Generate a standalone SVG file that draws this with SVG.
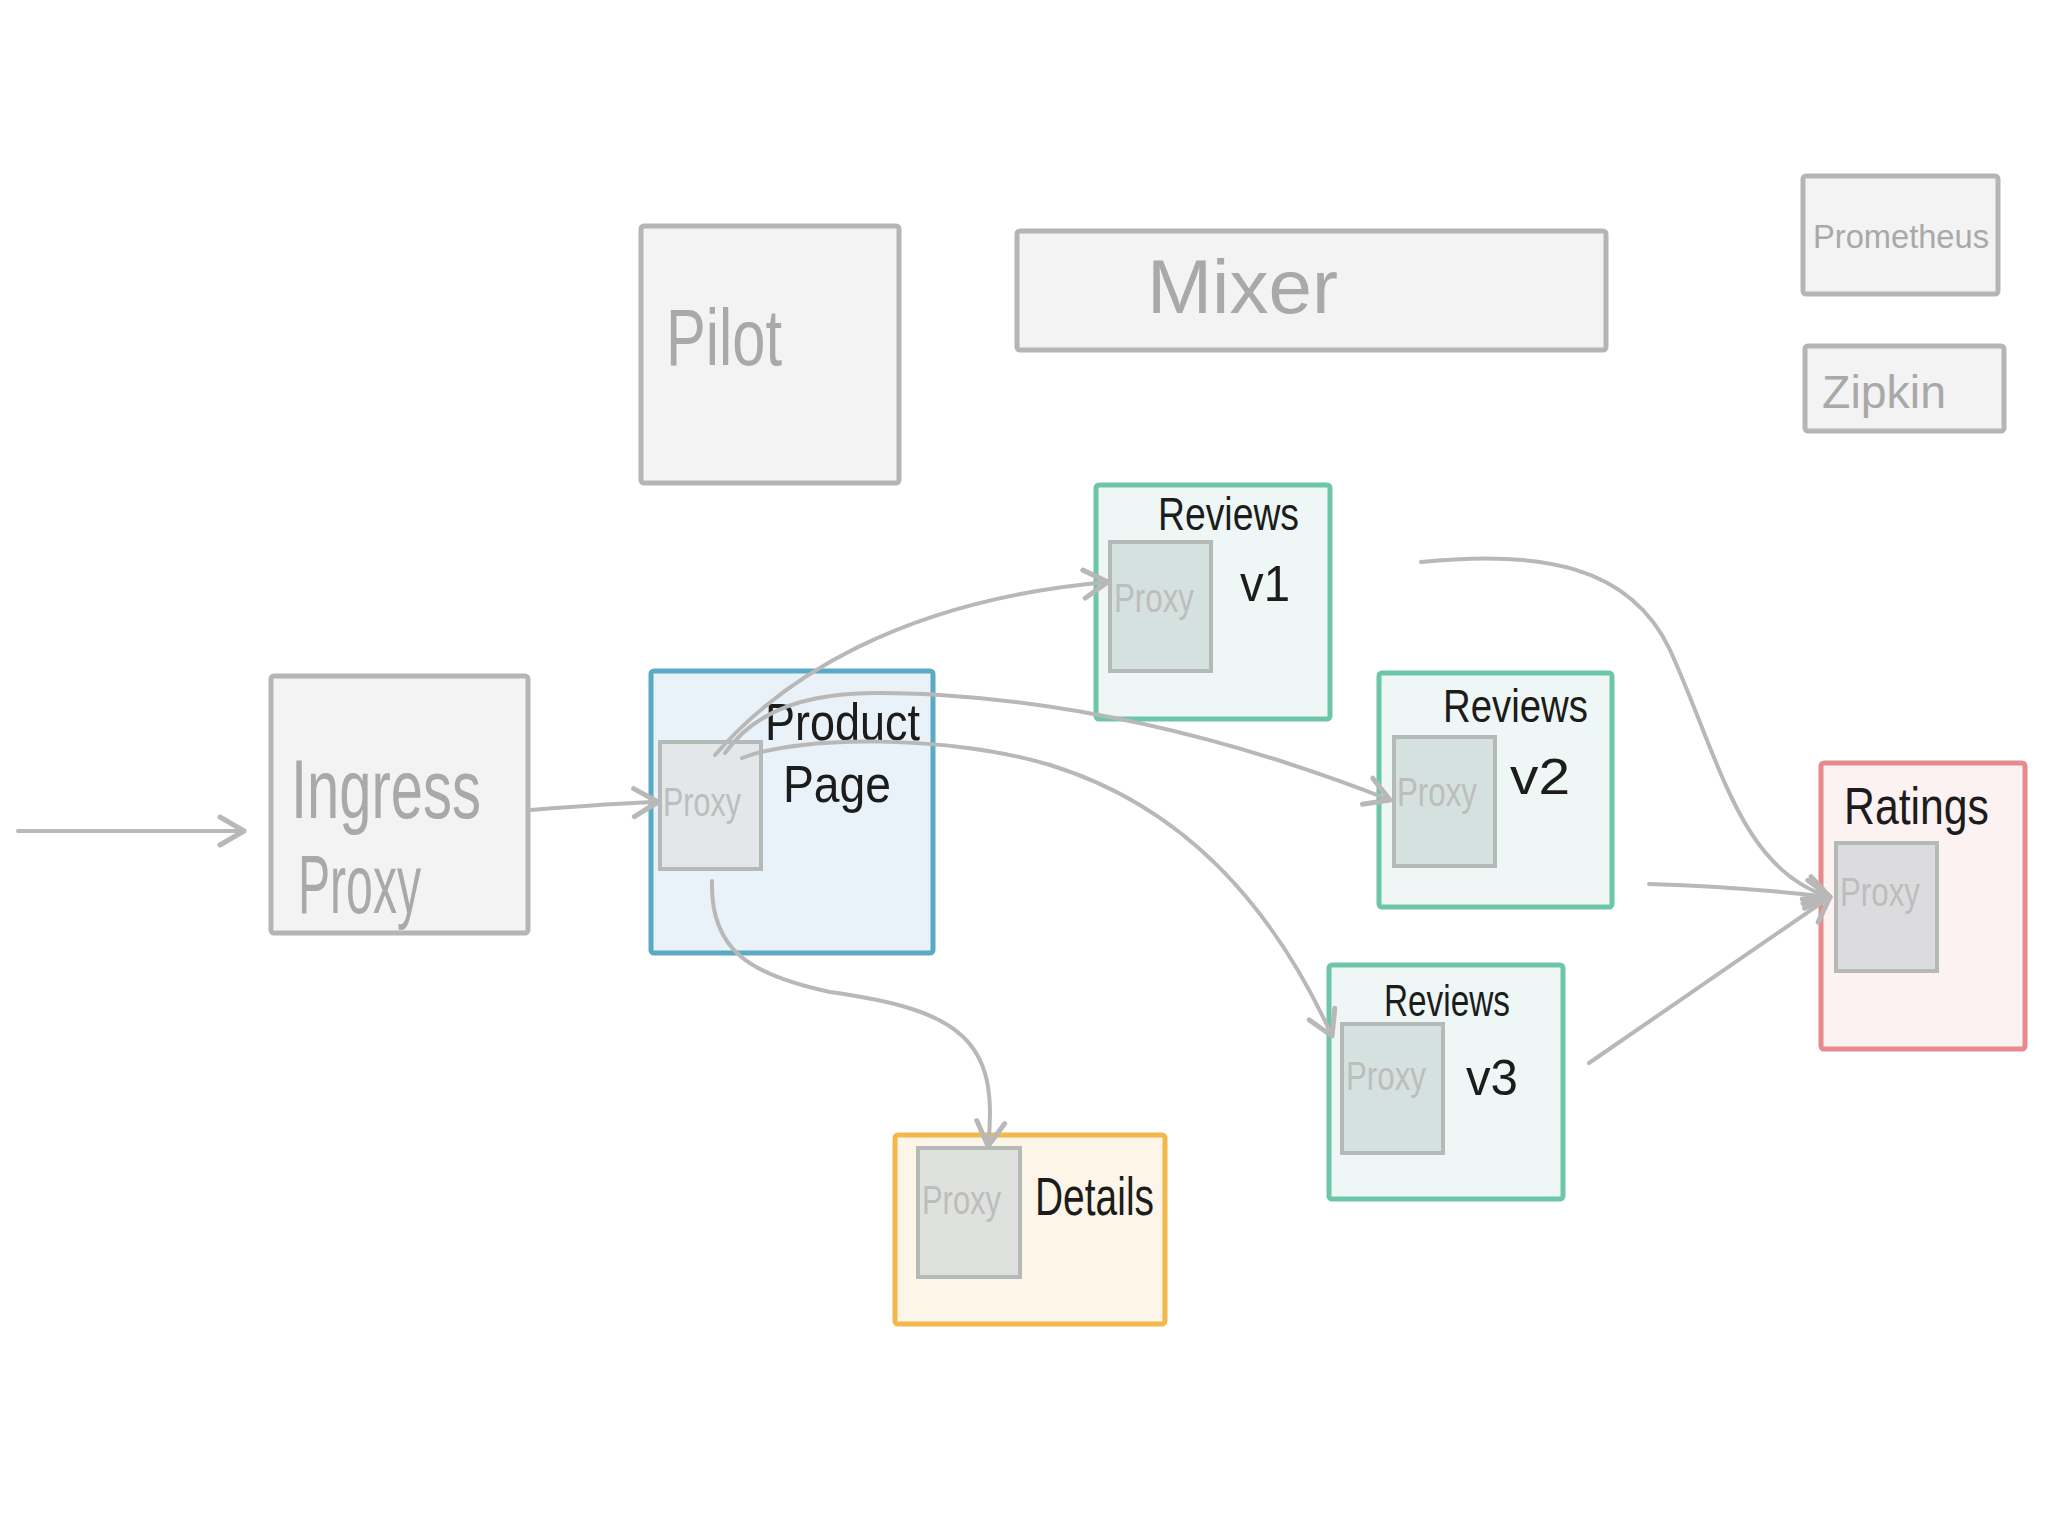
<svg xmlns="http://www.w3.org/2000/svg" width="2048" height="1536" viewBox="0 0 2048 1536">
<defs>
<style>
.gbox{fill:#f3f3f3;stroke:#b5b5b5;stroke-width:5}
.glabel{font-family:"Liberation Sans","DejaVu Sans",sans-serif;fill:#a9a9a9}
.blabel{font-family:"Liberation Sans","DejaVu Sans",sans-serif;fill:#1c1c1c}
.plabel{font-family:"Liberation Sans","DejaVu Sans",sans-serif;fill:#bdbdbd;font-size:40px}
.pp{fill:#e9f2f8;stroke:#5aaac5;stroke-width:5}
.rv{fill:#eef7f6;stroke:#6cc6a7;stroke-width:5}
.rt{fill:#fdf2f2;stroke:#e78a8c;stroke-width:5}
.dt{fill:#fdf5e8;stroke:#f2b84c;stroke-width:5}
.proxy{stroke:#b5b9b7;stroke-width:4}
.conn{fill:none;stroke:#b8b8b8;stroke-width:4;stroke-linecap:round;marker-end:url(#chev)}
</style>
<marker id="chev" viewBox="-30 -18 34 36" markerWidth="34" markerHeight="36" markerUnits="userSpaceOnUse" refX="0" refY="0" orient="auto">
<path d="M-24,-14 L0,0 L-24,14" fill="none" stroke="#b8b8b8" stroke-width="5" stroke-linecap="round" stroke-linejoin="round"/>
</marker>
</defs>
<rect width="2048" height="1536" fill="#ffffff"/>

<g id="pilot">
<rect class="gbox" x="641" y="226" width="258" height="257" rx="3"/>
<text class="glabel" x="666" y="365" font-size="80" textLength="116" lengthAdjust="spacingAndGlyphs">Pilot</text>
</g>

<g id="mixer">
<rect class="gbox" x="1017" y="231" width="589" height="119" rx="3"/>
<text class="glabel" x="1147" y="313" font-size="76" textLength="191" lengthAdjust="spacingAndGlyphs">Mixer</text>
</g>

<g id="prometheus">
<rect class="gbox" x="1803" y="176" width="195" height="118" rx="3"/>
<text class="glabel" x="1813" y="248" font-size="33" textLength="176" lengthAdjust="spacingAndGlyphs">Prometheus</text>
</g>

<g id="zipkin">
<rect class="gbox" x="1805" y="346" width="199" height="85" rx="3"/>
<text class="glabel" x="1822" y="408" font-size="46" textLength="124" lengthAdjust="spacingAndGlyphs">Zipkin</text>
</g>

<g id="ingress">
<rect class="gbox" x="271" y="676" width="257" height="257" rx="3"/>
<text class="glabel" x="291" y="818" font-size="84" textLength="190" lengthAdjust="spacingAndGlyphs">Ingress</text>
<text class="glabel" x="298" y="913" font-size="84" textLength="123" lengthAdjust="spacingAndGlyphs">Proxy</text>
</g>

<g id="productpage">
<rect class="pp" x="651" y="671" width="282" height="282" rx="3"/>
<rect class="proxy" x="660" y="742" width="101" height="127" fill="#e3e7e9"/>
<text class="plabel" x="663" y="816" textLength="78" lengthAdjust="spacingAndGlyphs">Proxy</text>
<text class="blabel" x="765" y="740" font-size="52" textLength="155" lengthAdjust="spacingAndGlyphs">Product</text>
<text class="blabel" x="783" y="802" font-size="52" textLength="108" lengthAdjust="spacingAndGlyphs">Page</text>
</g>

<g id="reviews-v1">
<rect class="rv" x="1096" y="485" width="234" height="234" rx="3"/>
<rect class="proxy" x="1110" y="542" width="101" height="129" fill="#d5e1de"/>
<text class="plabel" x="1114" y="612" textLength="80" lengthAdjust="spacingAndGlyphs">Proxy</text>
<text class="blabel" x="1158" y="530" font-size="46" textLength="141" lengthAdjust="spacingAndGlyphs">Reviews</text>
<text class="blabel" x="1240" y="601" font-size="50" textLength="50" lengthAdjust="spacingAndGlyphs">v1</text>
</g>

<g id="reviews-v2">
<rect class="rv" x="1379" y="673" width="233" height="234" rx="3"/>
<rect class="proxy" x="1394" y="737" width="101" height="129" fill="#d5e1de"/>
<text class="plabel" x="1397" y="806" textLength="80" lengthAdjust="spacingAndGlyphs">Proxy</text>
<text class="blabel" x="1443" y="722" font-size="46" textLength="145" lengthAdjust="spacingAndGlyphs">Reviews</text>
<text class="blabel" x="1510" y="794" font-size="50" textLength="60" lengthAdjust="spacingAndGlyphs">v2</text>
</g>

<g id="reviews-v3">
<rect class="rv" x="1329" y="965" width="234" height="234" rx="3"/>
<rect class="proxy" x="1342" y="1024" width="101" height="129" fill="#d5e1de"/>
<text class="plabel" x="1346" y="1090" textLength="80" lengthAdjust="spacingAndGlyphs">Proxy</text>
<text class="blabel" x="1384" y="1016" font-size="44" textLength="126" lengthAdjust="spacingAndGlyphs">Reviews</text>
<text class="blabel" x="1466" y="1095" font-size="50" textLength="52" lengthAdjust="spacingAndGlyphs">v3</text>
</g>

<g id="ratings">
<rect class="rt" x="1821" y="763" width="204" height="286" rx="3"/>
<rect class="proxy" x="1836" y="843" width="101" height="128" fill="#dcdcdf"/>
<text class="plabel" x="1840" y="906" textLength="80" lengthAdjust="spacingAndGlyphs">Proxy</text>
<text class="blabel" x="1844" y="824" font-size="52" textLength="145" lengthAdjust="spacingAndGlyphs">Ratings</text>
</g>

<g id="details">
<rect class="dt" x="895" y="1135" width="270" height="189" rx="3"/>
<rect class="proxy" x="918" y="1148" width="102" height="129" fill="#dfe1de"/>
<text class="plabel" x="922" y="1214" textLength="79" lengthAdjust="spacingAndGlyphs">Proxy</text>
<text class="blabel" x="1035" y="1215" font-size="54" textLength="119" lengthAdjust="spacingAndGlyphs">Details</text>
</g>

<g id="connectors">
<path class="conn" d="M18,831 L244,831"/>
<path class="conn" d="M531,810 C580,806 620,803 658,802"/>
<path class="conn" d="M715,755 C780,680 900,600 1108,582"/>
<path class="conn" d="M725,753 C770,690 850,690 940,695 C1100,705 1250,745 1390,800"/>
<path class="conn" d="M742,758 C800,735 950,735 1050,765 C1180,805 1270,900 1332,1036"/>
<path class="conn" d="M712,881 C710,950 750,975 830,992 C960,1010 1000,1040 988,1146"/>
<path class="conn" d="M1421,562 C1540,550 1630,565 1670,650 C1720,760 1740,870 1830,897"/>
<path class="conn" d="M1649,884 C1710,886 1770,890 1830,897"/>
<path class="conn" d="M1589,1063 L1830,897"/>
</g>
</svg>
